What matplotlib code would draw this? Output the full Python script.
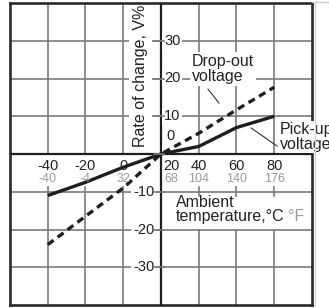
import matplotlib
matplotlib.use("Agg")
import matplotlib.pyplot as plt
from matplotlib.lines import Line2D

plt.rcParams["font.family"] = ["Liberation Sans", "DejaVu Sans"]

# ambient temperature (degC) and rate of change (%)
temp_c = [-40, -20, 0, 20, 40, 60, 80]
pickup = [-11, -7.5, -3.5, 0, 2, 7, 10]
dropout = [-24, -16.5, -9, 0, 5.5, 11.7, 17.7]

x_ticks_c = [-40, -20, 0, 20, 40, 60, 80]
x_ticks_f = [-40, -4, 32, 68, 104, 140, 176]
y_ticks = [-30, -20, -10, 0, 10, 20, 30]

X0 = 20  # temperature where the vertical axis sits
DARK = "#1e1e1e"
GRID = "#7a7a7a"
FGRAY = "#9a9a9a"
LABEL_FS = 11.5

fig = plt.figure(figsize=(3.29, 3.08), dpi=100)
ax = fig.add_axes([10 / 329, 3 / 308, 302 / 329, 302 / 308])
ax.set_xlim(-60, 100)
ax.set_ylim(-40, 40)
ax.set_xticks([])
ax.set_yticks([])
for s in ax.spines.values():
    s.set_linewidth(1.9)
    s.set_color("#2a2a2a")

# horizontal grid
for y in y_ticks:
    if y != 0:
        ax.plot([-60, 100], [y, y], color=GRID, lw=1.2, zorder=1)

# vertical grid, broken where the labels sit
for x in x_ticks_c:
    if x == X0:
        continue
    ax.plot([x, x], [0, 40], color=GRID, lw=1.2, zorder=1)
    if x < X0:
        ax.plot([x, x], [-40, -8.8], color=GRID, lw=1.2, zorder=1)
    else:
        ax.plot([x, x], [-40, -20], color=GRID, lw=1.2, zorder=1)
        ax.plot([x, x], [-11.2, -8.8], color=GRID, lw=1.2, zorder=1)

# axes through the origin
ax.plot([-60, 100], [0, 0], color=DARK, lw=1.6, zorder=2.6)
ax.plot([X0, X0], [-40, 40], color=DARK, lw=1.6, zorder=2.6)

# curves
ax.plot(temp_c, pickup, color=DARK, lw=2.4, solid_capstyle="butt", zorder=3)
ax.plot(temp_c, dropout, color=DARK, lw=2.4, dashes=(2.2, 1.5), zorder=3)

box = dict(boxstyle="square,pad=0.12", fc="white", ec="none")

# y tick labels
for y in y_ticks:
    if y > 0:
        ax.text(21.6, y, str(y), ha="left", va="center", fontsize=10.5,
                color="#222222", bbox=box, zorder=4)
    elif y < 0:
        ax.text(16.4, y, str(y), ha="right", va="center", fontsize=10.5,
                color="#222222", bbox=box, zorder=4)
    ax.plot([16.4, 21.4], [y, y], color=GRID, lw=1.2, zorder=4.5)
ax.text(25, 4.9, "0", ha="center", va="center", fontsize=10.5, color="#222222")

# x tick labels, degC and degF
for c, f in zip(x_ticks_c, x_ticks_f):
    xp = 25.3 if c == X0 else c
    ax.text(xp, -3.2, str(c), ha="center", va="center", fontsize=10.5,
            color="#222222")
    ax.text(xp, -6.75, str(f), ha="center", va="center", fontsize=9,
            color=FGRAY)

# axis titles
ax.text(8.9, 20.7, "Rate of change, V%", rotation=90, ha="center",
        va="center", fontsize=LABEL_FS, color="#222222", zorder=2.2,
        bbox=dict(boxstyle="square,pad=0.25", fc="white", ec="none"))
ax.text(28, -12.9, "Ambient", ha="left", va="center", fontsize=LABEL_FS,
        color="#222222")
ax.text(28, -16.6, "temperature,°C", ha="left", va="center",
        fontsize=LABEL_FS, color="#222222")
ax.text(87.3, -16.6, "°F", ha="left", va="center", fontsize=LABEL_FS,
        color=FGRAY)

# curve labels with pointers
ax.text(36.4, 22.6, "Drop-out\nvoltage", ha="left", va="center",
        fontsize=LABEL_FS, color="#222222", linespacing=1.0, zorder=4,
        bbox=dict(boxstyle="square,pad=0.12", fc="white", ec="none"))
ax.plot([44.9, 50.7], [17.2, 13.5], color="#333333", lw=0.8, zorder=3)
ax.text(83.1, 4.5, "Pick-up\nvoltage", ha="left", va="center",
        fontsize=LABEL_FS, color="#222222", linespacing=0.95, zorder=6,
        clip_on=False,
        bbox=dict(boxstyle="square,pad=0.08", fc="white", ec="none"))
ax.plot([81.5, 67.7], [2.1, 6.9], color="#333333", lw=0.8, zorder=3)

# faint scan edge lines
fig.add_artist(Line2D([312 / 329, 1], [1 - 1.5 / 308, 1 - 1.5 / 308],
                      color="#cccccc", lw=1))
fig.add_artist(Line2D([314.5 / 329, 314.5 / 329], [3 / 308, 1 - 1.5 / 308],
                      color="#d5d5d5", lw=1))

fig.savefig("out.png", dpi=100)
